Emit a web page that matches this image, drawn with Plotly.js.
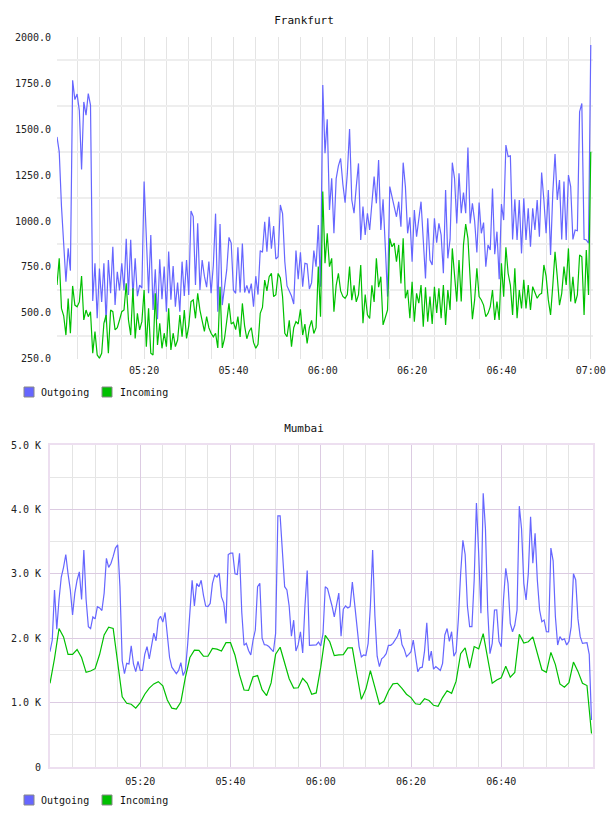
<!DOCTYPE html>
<html><head><meta charset="utf-8">
<script src="https://cdn.plot.ly/plotly-3.0.1.min.js"></script>
<style>body{margin:0;background:#fff}#fra,#mum{width:608px;height:408px}</style>
</head><body>
<div id="fra"></div><div id="mum"></div>
<script>
// ---------- data ----------
const day = '2024-01-01';
const fraStart = '05:00:30', fraStepSec = 30;
const fraOutgoing = [
1457,1376,1080,900,670,851,730,1765,1660,1690,
1600,1280,1647,1575,1692,1630,565,770,471,741,
560,770,449,788,607,860,543,724,623,770,
623,904,598,898,589,797,591,652,635,1214,
951,607,924,516,737,466,792,575,752,507,
834,572,755,534,665,507,779,592,788,598,
1054,1024,652,987,
625,788,700,640,780,607,
760,1040,507,984,543,640,734,911,880,625,
607,857,611,878,611,650,607,660,534,700,
600,839,830,996,833,1023,850,973,793,806,
1087,1040,780,647,620,592,549,839,683,830,
643,770,766,630,665,839,752,978,643,1739,
1368,1553,1060,1232,933,1230,1300,1340,1200,1100,
1260,1500,1114,1042,1187,1313,897,1078,924,1042,
951,1078,1241,1096,1331,951,1118,860,589,1187,
1132,1078,1023,1105,
969,1317,1187,933,1020,779,1060,915,1005,1105,
897,688,1015,788,761,1015,882,987,924,716,
1168,797,900,1317,1232,987,1259,1042,1154,1042,
1399,987,1096,1000,829,1100,933,991,752,870,
842,1177,820,942,683,1092,1005,1413,1350,1354,
900,1118,897,1114,824,1123,897,1069,860,1069,
951,1114,915,1264,1114,933,1168,815,1154,1364,
1114,1223,900,1214,897,1250,1187,900,951,947,
1594,1639,900,897,879,1957];
const fraIncoming = [
652,797,525,485,380,578,390,647,543,534,
560,701,462,516,480,507,281,399,272,254,
281,444,489,281,516,507,408,420,462,507,
516,661,462,380,634,362,498,408,453,625,
317,525,281,272,607,326,444,308,390,317,
525,299,390,317,353,489,371,516,362,430,
562,571,471,607,
516,450,400,480,420,390,
370,390,310,643,310,360,470,552,440,450,
410,480,370,552,430,360,400,420,340,308,
330,498,530,679,620,697,715,589,600,715,
690,589,390,371,460,317,420,453,440,520,
380,440,335,420,460,389,420,752,480,1160,
770,933,752,797,507,650,715,620,590,580,
600,752,570,650,560,600,761,444,600,490,
470,650,560,797,640,697,435,480,516,906,
860,880,779,870,
661,906,580,625,471,670,453,607,553,652,
426,640,453,589,440,643,500,634,471,652,
435,625,516,851,679,562,788,562,870,983,
906,652,466,571,743,589,571,543,480,498,
534,625,462,562,462,770,589,857,716,652,
489,743,471,625,525,680,525,652,516,643,
607,580,600,607,761,700,571,489,650,833,
697,543,607,752,652,851,562,697,553,598,
815,806,489,842,598,1377];

const mumStart = '05:00:00', mumOutStepSec = 30, mumInStepSec = 60;
const mumOutgoing = [
1791,1972,2748,2140,2600,2950,3100,3300,3000,2750,
2360,2700,2900,3030,2600,3370,2600,2180,2150,2330,
2300,2490,2470,2430,2700,3240,3100,3160,3270,3400,
3450,2800,1650,1450,1610,1600,1880,1600,1480,1640,
1500,1500,1750,1870,1680,1920,2080,1960,2283,2340,
2250,2400,2000,1700,1550,1500,1450,1500,1620,1420,
1500,1900,2400,2900,2500,2850,2800,
2900,2670,2500,2490,2540,2850,2980,2950,3010,2640,
2550,2230,3300,3320,3320,3000,2990,3318,2400,1890,
1920,1810,1740,1972,2127,2800,2852,2000,1900,1895,
1870,1830,1790,2075,3900,3900,3250,2800,2750,2500,
2030,2280,1800,1900,2100,1770,2500,3050,1890,1890,
1890,1895,1940,1880,2070,2800,2770,2640,2500,2330,
2540,2700,2030,2450,2500,2470,2490,2870,2540,2230,
1870,1710,1740,1730,1920,2500,3370,2350,1720,1560,
1680,1710,1760,1890,1890,1920,1980,2030,2140,
1900,1830,1713,1750,1790,1972,1680,1480,1540,1550,
1800,2240,1650,1800,1520,1560,1530,1500,1610,2050,
2150,1950,2100,1720,1790,2300,3000,3520,3300,2500,
2179,2180,2900,4100,3318,2386,4250,3700,2438,1760,
1920,2438,2440,1950,1868,2600,3085,2852,2231,2100,
2200,2438,4050,3700,2852,2593,3007,3887,3163,3628,
2900,2438,2257,2283,2101,2100,3400,3200,2334,1894,
2024,1972,1990,1894,1950,2179,3000,2904,2300,2024,
1920,1920,1930,1750,730];
const mumIncoming = [
1299,1685,2150,2020,1750,1750,1825,1700,1470,1490,
1527,1750,2050,2170,2150,1600,1090,990,975,913,
1000,1130,1225,1290,1325,1260,1040,913,900,1010,
1390,1700,1815,1810,1720,1720,1840,1830,1800,1930,
1930,1735,1430,1195,1190,1400,1420,1200,1110,1305,
1750,1860,1600,1370,1225,1230,1377,1300,1130,1150,
1550,2045,1945,1730,1740,1745,1850,1850,1440,1050,
1210,1495,1236,975,1020,1180,1290,1300,1220,1130,
1077,982,971,1059,1033,958,942,1078,1185,1144,
1332,1760,1850,1534,1870,1835,2070,1690,1300,1352,
1385,1565,1395,1467,2060,1925,1945,2020,1785,1510,
1470,1780,1590,1290,1240,1310,1630,1485,1300,1265,
520];

const seriesNames = ['Outgoing', 'Incoming'];
const seriesColors = ['#6666ff', '#00c000'];
const fraTimeTickLabels = ['05:20','05:40','06:00','06:20','06:40','07:00'];
const mumTimeTickLabels = ['05:20','05:40','06:00','06:20','06:40'];
const fraYTicks = [250,500,750,1000,1250,1500,1750,2000];
const fraYGridVals = [375,625,875,1125,1375,1625,1875];
const mumYTicks = [0,1000,2000,3000,4000,5000];
const mumYTickText = ['0','1.0 K','2.0 K','3.0 K','4.0 K','5.0 K'];

// ---------- helpers ----------
function pad(n){return String(n).padStart(2,'0');}
function times(startHMS, stepSec, n){
  const p = startHMS.split(':').map(Number);
  const base = p[0]*3600+p[1]*60+p[2];
  const out = [];
  for(let i=0;i<n;i++){
    const t = base+i*stepSec;
    out.push(day+' '+pad(Math.floor(t/3600))+':'+pad(Math.floor(t%3600/60))+':'+pad(t%60));
  }
  return out;
}
const FONT = 'DejaVu Sans Mono, monospace';
// 5-minute grid positions 05:05 .. 06:55
const fiveMinGrid = times('05:05:00', 300, 23);

function legendItems(left){
  const shapes = [], annots = [];
  const xs = [[24,39],[102,118]];
  seriesNames.forEach((nm,i)=>{
    shapes.push({type:'rect', xref:'paper', yref:'paper', xsizemode:'pixel', ysizemode:'pixel',
      xanchor:0, yanchor:0, x0:xs[i][0]-left, x1:xs[i][0]+10-left, y0:-28, y1:-38,
      fillcolor:seriesColors[i], line:{color:'#888', width:1}});
    annots.push({text:nm, xref:'paper', yref:'paper', x:0, y:0, xanchor:'left', yanchor:'middle',
      xshift:xs[i][1]-left, yshift:-33, showarrow:false, font:{family:FONT,size:10,color:'#111'}});
  });
  return {shapes, annots};
}

function makeChart(id, title, xs, ys, xRange, tickLabels, yAxis, left, purple){
  const traces = ys.map((y,i)=>({type:'scatter', mode:'lines', name:seriesNames[i], x:xs[i], y:y,
    line:{color:seriesColors[i], width:1.2}, showlegend:false, hoverinfo:'skip'}));
  const lg = legendItems(left);
  const majorGrid = purple ? '#dccbe2' : '#e2e2e2';
  const layout = {
    width:608, height:408, margin:{l:left, r:15, t:37, b:49},
    paper_bgcolor:'#fff', plot_bgcolor:'#fff', showlegend:false,
    font:{family:FONT, size:10, color:'#222'},
    title:{text:title, x:0.5, xref:'container', xanchor:'center', y:1-20/408, yref:'container', yanchor:'middle',
      font:{family:FONT, size:11, color:'#111'}},
    xaxis:{type:'date', range:xRange, tickmode:'array', tickvals:tickLabels.map(t=>day+' '+t), ticktext:tickLabels,
      showgrid:true, gridcolor:majorGrid, gridwidth:1, zeroline:false, ticks:'', ticklabelstandoff:4,
      showline:purple, mirror:purple, linecolor:'#eddff0', linewidth:2,
      minor:{tickmode:'array', tickvals:fiveMinGrid, showgrid:true, gridcolor:'#e4e4e4', gridwidth:1, ticks:''},
      tickfont:{family:FONT,size:10,color:'#222'}},
    yaxis:yAxis,
    shapes:lg.shapes, annotations:lg.annots
  };
  Plotly.newPlot(id, traces, layout, {staticPlot:true, displayModeBar:false});
}

const fraX = times(fraStart, fraStepSec, fraOutgoing.length);
makeChart('fra', 'Frankfurt', [fraX, fraX], [fraOutgoing, fraIncoming],
  [day+' 05:00:30', day+' 07:00:30'], fraTimeTickLabels,
  {range:[249.9, 2000.1], tickmode:'array', tickvals:fraYTicks, tickformat:'.1f', showgrid:false,
   zeroline:false, ticks:'', ticklabelstandoff:5, tickfont:{family:FONT,size:10,color:'#222'},
   minor:{tickmode:'array', tickvals:fraYGridVals, showgrid:true, gridcolor:'#eeeeee', gridwidth:2, ticks:''}},
  57, false);

const mumXOut = times(mumStart, mumOutStepSec, mumOutgoing.length);
const mumXIn = times(mumStart, mumInStepSec, mumIncoming.length);
makeChart('mum', 'Mumbai', [mumXOut, mumXIn], [mumOutgoing, mumIncoming],
  [day+' 05:00:00', day+' 07:00:20'], mumTimeTickLabels,
  {range:[0, 5000], tickmode:'array', tickvals:mumYTicks, ticktext:mumYTickText, showgrid:true,
   gridcolor:'#dccbe2', zeroline:false, ticks:'', ticklabelstandoff:5, showline:true, mirror:true,
   linecolor:'#eddff0', linewidth:2, tickfont:{family:FONT,size:10,color:'#222'},
   minor:{dtick:500, showgrid:true, gridcolor:'#e6e6e6', gridwidth:1, ticks:''}},
  50, true);
</script>
</body></html>
